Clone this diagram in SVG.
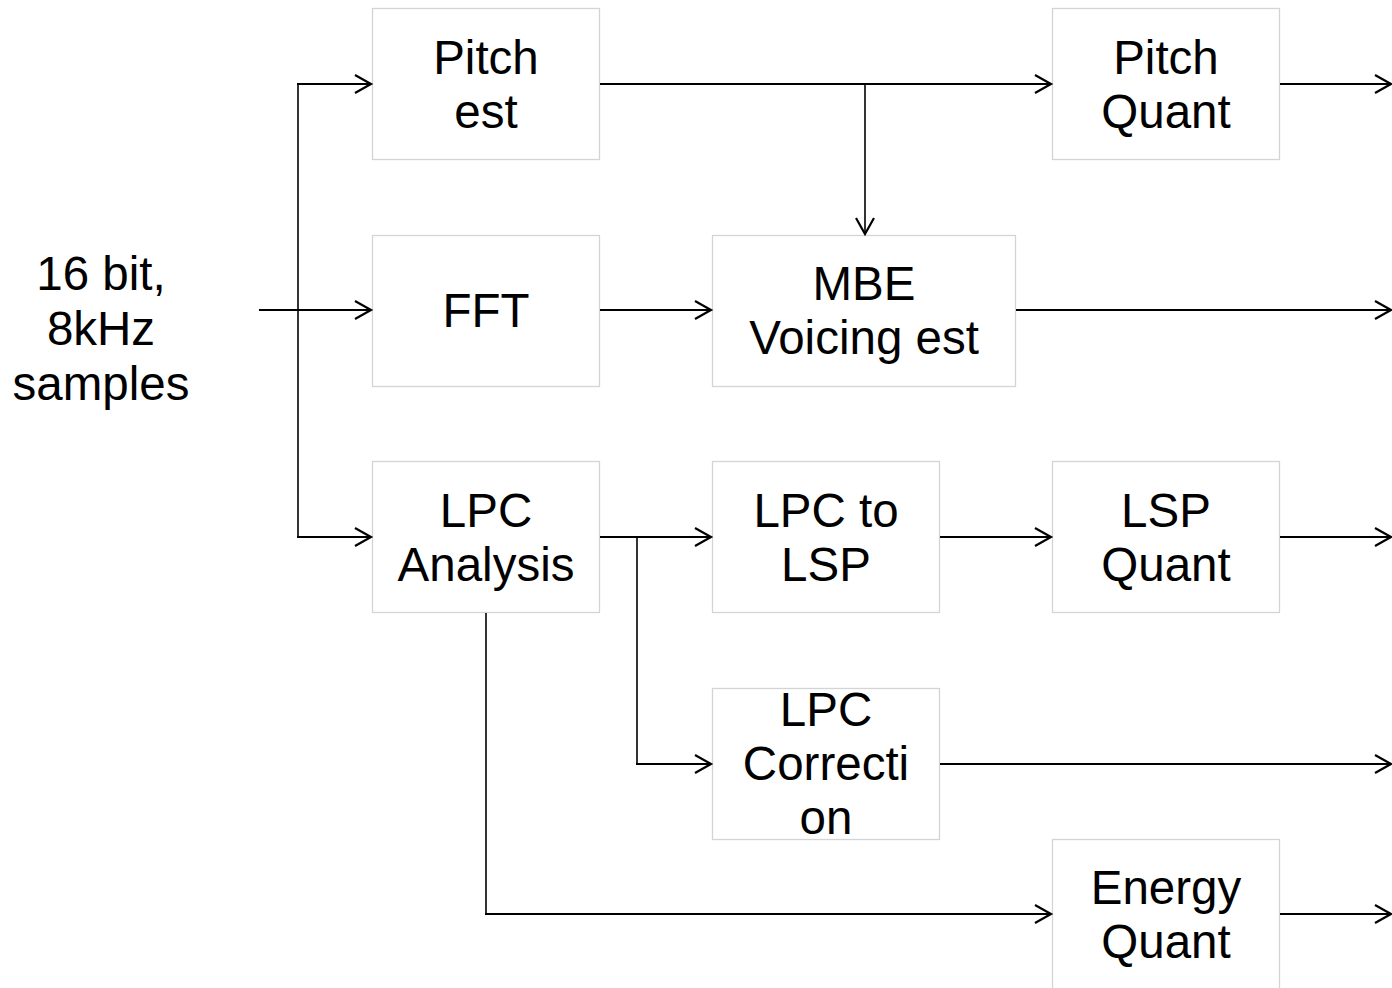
<svg xmlns="http://www.w3.org/2000/svg" width="1392" height="988" viewBox="0 0 1392 988">
<style>
.box{fill:#ffffff;stroke:#d4d4d4;stroke-width:1.3}
.t{font-family:"Liberation Sans",Arial,sans-serif;font-size:47.5px;fill:#000;text-anchor:middle}
.h{fill:none;stroke:#000;stroke-width:2.2}
.v{fill:none;stroke:#000;stroke-width:1.6}
</style>
<defs>
<marker id="ah" markerUnits="userSpaceOnUse" markerWidth="24" markerHeight="24" viewBox="-20 -12 24 24" refX="0" refY="0" orient="auto">
<path d="M-16,-9 L0,0 L-16,9" fill="none" stroke="#000" stroke-width="2.2"/>
</marker>
</defs>
<rect width="1392" height="988" fill="#fff"/>
<g id="input-label"><text class="t" x="101" y="290">16 bit,</text><text class="t" x="101" y="345">8kHz</text><text class="t" x="101" y="400">samples</text></g>
<g id="pitch-est"><rect class="box" x="372.5" y="8.5" width="227" height="151"/><text class="t" x="486" y="74">Pitch</text><text class="t" x="486" y="128">est</text></g>
<g id="fft"><rect class="box" x="372.5" y="235.5" width="227" height="151"/><text class="t" x="486" y="327">FFT</text></g>
<g id="lpc-analysis"><rect class="box" x="372.5" y="461.5" width="227" height="151"/><text class="t" x="486" y="527">LPC</text><text class="t" x="486" y="581">Analysis</text></g>
<g id="mbe"><rect class="box" x="712.5" y="235.5" width="303" height="151"/><text class="t" x="864" y="300">MBE</text><text class="t" x="864" y="354">Voicing est</text></g>
<g id="lpc-to-lsp"><rect class="box" x="712.5" y="461.5" width="227" height="151"/><text class="t" x="826" y="527">LPC to</text><text class="t" x="826" y="581">LSP</text></g>
<g id="lpc-correction"><rect class="box" x="712.5" y="688.5" width="227" height="151"/><text class="t" x="826" y="726">LPC</text><text class="t" x="826" y="780">Correcti</text><text class="t" x="826" y="834">on</text></g>
<g id="pitch-quant"><rect class="box" x="1052.5" y="8.5" width="227" height="151"/><text class="t" x="1166" y="74">Pitch</text><text class="t" x="1166" y="128">Quant</text></g>
<g id="lsp-quant"><rect class="box" x="1052.5" y="461.5" width="227" height="151"/><text class="t" x="1166" y="527">LSP</text><text class="t" x="1166" y="581">Quant</text></g>
<g id="energy-quant"><rect class="box" x="1052.5" y="839.5" width="227" height="151"/><text class="t" x="1166" y="904">Energy</text><text class="t" x="1166" y="958">Quant</text></g>
<g id="connectors">
<path class="v" d="M298,84 V537"/>
<path class="h" d="M297,84 H371" marker-end="url(#ah)"/>
<path class="h" d="M259,310 H371" marker-end="url(#ah)"/>
<path class="h" d="M297,537 H371" marker-end="url(#ah)"/>
<path class="h" d="M600,84 H1051" marker-end="url(#ah)"/>
<path class="v" d="M865,84 V234" marker-end="url(#ah)"/>
<path class="h" d="M600,310 H711" marker-end="url(#ah)"/>
<path class="h" d="M1016,310 H1391" marker-end="url(#ah)"/>
<path class="h" d="M1280,84 H1391" marker-end="url(#ah)"/>
<path class="h" d="M600,537 H711" marker-end="url(#ah)"/>
<path class="v" d="M637,537 V764"/>
<path class="h" d="M636,764 H711" marker-end="url(#ah)"/>
<path class="h" d="M940,537 H1051" marker-end="url(#ah)"/>
<path class="h" d="M1280,537 H1391" marker-end="url(#ah)"/>
<path class="h" d="M940,764 H1391" marker-end="url(#ah)"/>
<path class="v" d="M486,613 V914"/>
<path class="h" d="M485,914 H1051" marker-end="url(#ah)"/>
<path class="h" d="M1280,914 H1391" marker-end="url(#ah)"/>
</g>
</svg>
